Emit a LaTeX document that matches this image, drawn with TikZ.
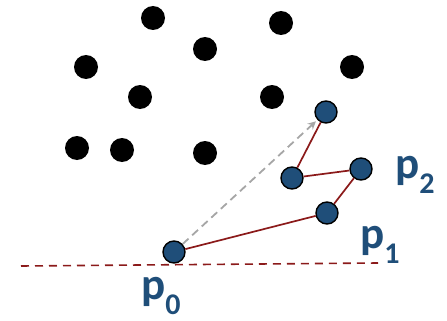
\documentclass[tikz,border=0pt]{standalone}
\usepackage{fontspec}
\setmainfont{Carlito}
\usetikzlibrary{arrows.meta}
\definecolor{NodeBlue}{HTML}{1F4E79}
\definecolor{EdgeRed}{HTML}{8B1A1A}
\definecolor{HintGray}{HTML}{A6A6A6}
\newcommand{\ptlabel}[1]{\textbf{p}\raisebox{-15pt}{\fontsize{30}{30}\selectfont\textbf{#1}}}

\begin{document}
\begin{tikzpicture}[x=1pt, y=-1pt,
    dot/.style={circle, fill=black, minimum size=24pt, inner sep=0pt},
    vtx/.style={circle, draw=black, line width=1.4pt, fill=NodeBlue, minimum size=22pt, inner sep=0pt},
    link/.style={EdgeRed, line width=1.7pt},
    hull/.style={EdgeRed, line width=1.6pt, dash pattern=on 8pt off 6pt},
    guess/.style={HintGray, line width=1.8pt, dash pattern=on 8pt off 5pt, -{Stealth[length=8pt, width=8pt]}, shorten >=2pt},
    plab/.style={text=NodeBlue, font=\fontsize{45}{45}\selectfont, anchor=base west, inner sep=0pt}]
    \useasboundingbox (0,0) rectangle (447,321);

    % Points
    \foreach \px/\py [count=\i] in {153/18, 281/23, 205/49, 86/67, 352/67, 140/97, 272/97, 77/148, 122/150, 205/153}
        \node[dot] (d\i) at (\px,\py) {};

    % Baseline
    \coordinate (hl) at (21,266);
    \coordinate (hr) at (378,263);
    \draw[hull] (hl) -- (hr);

    % Hull points
    \node[vtx] (p0) at (174,252) {};
    \node[vtx] (q1) at (327,213) {};
    \node[vtx] (q2) at (361,169) {};
    \node[vtx] (q3) at (292,178) {};
    \node[vtx] (q4) at (326,112) {};

    % Paths
    \draw[guess] (p0) -- (q4);
    \draw[link] (p0) -- (q1) -- (q2) -- (q3) -- (q4);

    % Labels
    \node[plab] (l0) at (141,299) {\ptlabel{0}};
    \node[plab] (l1) at (360,248) {\ptlabel{1}};
    \node[plab] (l2) at (395,178) {\ptlabel{2}};
\end{tikzpicture}
\end{document}
